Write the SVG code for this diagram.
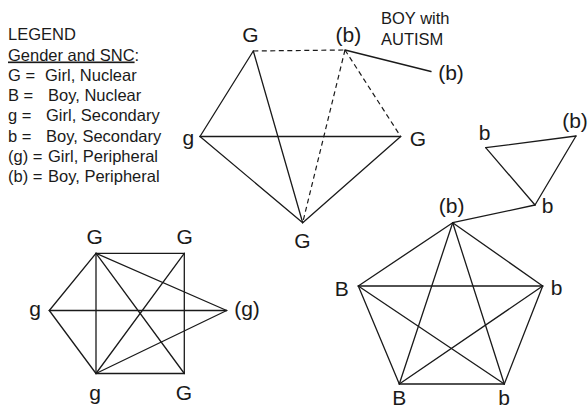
<svg xmlns="http://www.w3.org/2000/svg" width="588" height="409" viewBox="0 0 588 409">
  <style>
    .lg { font-family: "Liberation Sans", Arial, sans-serif; font-size: 16.5px; fill: #1a1a1a; }
    .nd { font-family: "Liberation Sans", Arial, sans-serif; font-size: 21px; fill: #1a1a1a; text-anchor: middle; }
    .e { stroke: #1a1a1a; stroke-width: 1.3; fill: none; stroke-linecap: round; }
    .d { stroke: #1a1a1a; stroke-width: 1.2; fill: none; stroke-dasharray: 5 3.5; }
  </style>
  <rect width="588" height="409" fill="#ffffff"/>

  <!-- legend -->
  <g id="legend">
    <text class="lg" x="8" y="40">LEGEND</text>
    <text class="lg" x="8" y="60.5"><tspan text-decoration="underline">Gender and SNC</tspan>:</text>
    <text class="lg" y="81"><tspan x="8">G =</tspan><tspan x="45">Girl, Nuclear</tspan></text>
    <text class="lg" y="101"><tspan x="8">B =</tspan><tspan x="48">Boy, Nuclear</tspan></text>
    <text class="lg" y="121"><tspan x="8">g =</tspan><tspan x="46">Girl, Secondary</tspan></text>
    <text class="lg" y="141.5"><tspan x="8">b =</tspan><tspan x="46">Boy, Secondary</tspan></text>
    <text class="lg" y="161.5"><tspan x="8">(g) =</tspan><tspan x="48">Girl, Peripheral</tspan></text>
    <text class="lg" y="181.5"><tspan x="8">(b) =</tspan><tspan x="48">Boy, Peripheral</tspan></text>
  </g>

  <!-- connectors -->
  <g id="connectors">
    <!-- group 1 (top) -->
    <line class="e" x1="253.3" y1="51" x2="200" y2="136.5"/>
    <line class="e" x1="253.3" y1="51" x2="302.7" y2="222.7"/>
    <line class="d" x1="253.3" y1="51" x2="345" y2="50"/>
    <line class="d" x1="345" y1="50" x2="400.7" y2="136.5"/>
    <line class="d" x1="345" y1="50" x2="302.7" y2="222.7"/>
    <line class="e" x1="345" y1="50" x2="431" y2="71.5"/>
    <line class="e" x1="200" y1="136.5" x2="400.7" y2="136.5"/>
    <line class="e" x1="200" y1="136.5" x2="302.7" y2="222.7"/>
    <line class="e" x1="400.7" y1="136.5" x2="302.7" y2="222.7"/>

    <!-- group 2 (bottom left) -->
    <line class="e" x1="96" y1="253.3" x2="184.3" y2="253.3"/>
    <line class="e" x1="96" y1="253.3" x2="49.3" y2="310.5"/>
    <line class="e" x1="96" y1="253.3" x2="96" y2="373.5"/>
    <line class="e" x1="96" y1="253.3" x2="184.3" y2="373.5"/>
    <line class="e" x1="96" y1="253.3" x2="226.7" y2="310.5"/>
    <line class="e" x1="184.3" y1="253.3" x2="184.3" y2="373.5"/>
    <line class="e" x1="184.3" y1="253.3" x2="96" y2="373.5"/>
    <line class="e" x1="49.3" y1="310.5" x2="226.7" y2="310.5"/>
    <line class="e" x1="49.3" y1="310.5" x2="96" y2="373.5"/>
    <line class="e" x1="96" y1="373.5" x2="184.3" y2="373.5"/>
    <line class="e" x1="96" y1="373.5" x2="226.7" y2="310.5"/>

    <!-- group 3 (triangle) -->
    <line class="e" x1="485.7" y1="147.7" x2="576" y2="136"/>
    <line class="e" x1="576" y1="136" x2="535" y2="205"/>
    <line class="e" x1="485.7" y1="147.7" x2="535" y2="205"/>
    <line class="e" x1="535" y1="205" x2="452.7" y2="222.7"/>

    <!-- group 4 (pentagon, all pairs) -->
    <line class="e" x1="452.7" y1="222.7" x2="358.3" y2="286"/>
    <line class="e" x1="452.7" y1="222.7" x2="542.7" y2="286"/>
    <line class="e" x1="452.7" y1="222.7" x2="399.3" y2="384"/>
    <line class="e" x1="452.7" y1="222.7" x2="504.3" y2="384"/>
    <line class="e" x1="358.3" y1="286" x2="542.7" y2="286"/>
    <line class="e" x1="358.3" y1="286" x2="399.3" y2="384"/>
    <line class="e" x1="358.3" y1="286" x2="504.3" y2="384"/>
    <line class="e" x1="542.7" y1="286" x2="399.3" y2="384"/>
    <line class="e" x1="542.7" y1="286" x2="504.3" y2="384"/>
    <line class="e" x1="399.3" y1="384" x2="504.3" y2="384"/>
  </g>

  <!-- group 1 nodes -->
  <g id="n1-G-top"><text class="nd" x="250.5" y="42">G</text></g>
  <g id="n1-b-autism">
    <text class="nd" x="348.3" y="42">(b)</text>
    <text class="lg" x="381" y="24">BOY with</text>
    <text class="lg" x="381" y="44.5">AUTISM</text>
  </g>
  <g id="n1-b-right"><text class="nd" x="451" y="80">(b)</text></g>
  <g id="n1-G-right"><text class="nd" x="418" y="146">G</text></g>
  <g id="n1-g-left"><text class="nd" x="188.3" y="145">g</text></g>
  <g id="n1-G-bottom"><text class="nd" x="302.5" y="248">G</text></g>

  <!-- group 2 nodes -->
  <g id="n2-G-tl"><text class="nd" x="94.7" y="244">G</text></g>
  <g id="n2-G-tr"><text class="nd" x="184.7" y="244">G</text></g>
  <g id="n2-g-left"><text class="nd" x="35" y="316">g</text></g>
  <g id="n2-g-right"><text class="nd" x="247" y="316">(g)</text></g>
  <g id="n2-g-bottom"><text class="nd" x="95" y="399.5">g</text></g>
  <g id="n2-G-br"><text class="nd" x="184" y="400">G</text></g>

  <!-- group 3 nodes -->
  <g id="n3-b-left"><text class="nd" x="484.5" y="140">b</text></g>
  <g id="n3-b-right"><text class="nd" x="575" y="128">(b)</text></g>
  <g id="n3-b-bottom"><text class="nd" x="547.5" y="213">b</text></g>

  <!-- group 4 nodes -->
  <g id="n4-b-top"><text class="nd" x="451.7" y="213">(b)</text></g>
  <g id="n4-B-left"><text class="nd" x="341.7" y="296">B</text></g>
  <g id="n4-b-right"><text class="nd" x="556.7" y="295">b</text></g>
  <g id="n4-B-bottom"><text class="nd" x="399.3" y="405">B</text></g>
  <g id="n4-b-bottom"><text class="nd" x="504" y="405">b</text></g>
</svg>
